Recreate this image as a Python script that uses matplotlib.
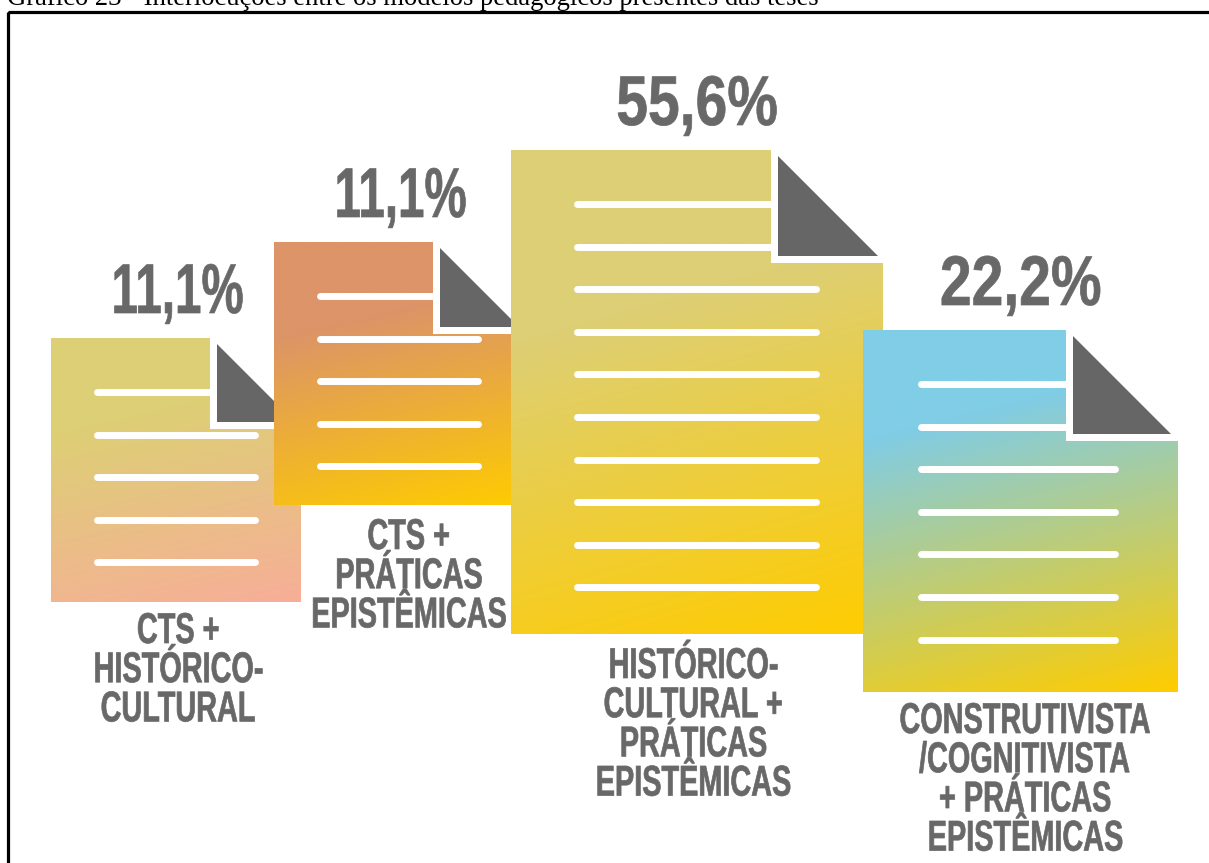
import numpy as np
import matplotlib
matplotlib.use('Agg')
import matplotlib.pyplot as plt
from matplotlib.patches import Polygon, Rectangle
from matplotlib.colors import to_rgb, to_rgba
from matplotlib.text import Text
from matplotlib.textpath import TextPath
from matplotlib.transforms import Affine2D, Bbox

# dados do gráfico
titulo = 'Gráfico 23 - Interlocuções entre os modelos pedagógicos presentes das teses'
rotulos = [
    'CTS +\nHISTÓRICO-\nCULTURAL',
    'CTS +\nPRÁTICAS\nEPISTÊMICAS',
    'HISTÓRICO-\nCULTURAL +\nPRÁTICAS\nEPISTÊMICAS',
    'CONSTRUTIVISTA\n/COGNITIVISTA\n+ PRÁTICAS\nEPISTÊMICAS',
]
valores = [11.1, 11.1, 55.6, 22.2]

# layout em pixels: x0, y0, x1, y1 de cada documento
docs = [(51, 338, 301, 602), (274, 242, 530, 505), (511, 150, 883, 634), (863, 330, 1178, 692)]
dobra = [(210, 422), (433, 327), (771, 256), (1066, 434)]
linhas_x = [(97, 255), (320, 478), (577, 816), (921, 1115)]
linhas_y0 = [392, 296, 204, 384]
n_linhas = [5, 5, 10, 7]
cores_ini = ['#DDCF75', '#DC9468', '#DDCF75', '#80CDE6']
cores_fim = ['#F7AE98', '#FFCC00', '#FFCC00', '#FFCC00']
grad_ini = [0.30, 0.30, 0.33, 0.25]
pos_valor = [(175.5, 313), (398.5, 217), (695.5, 125), (1019, 305)]
larg_valor = [0.675, 0.675, 0.81, 0.81]
pos_rotulo = [(177, 643), (407.5, 549), (692, 678), (1024, 733)]
GRAY = '#666666'
GRAY_TXT = '#686868'


class TextoEstreito(Text):
    # a fonte condensada do original não existe aqui: estreita o texto na horizontal
    def __init__(self, x, y, s, sx=1.0, **kw):
        super().__init__(x, y, s, **kw)
        self.sx = sx

    def _caminho(self):
        px = self.get_fontsize() * self.get_figure().dpi / 72
        tp = TextPath((0, 0), self.get_text(), size=px, prop=self.get_fontproperties())
        w = tp.get_extents().width * self.sx
        x, y = self.get_transform().transform((self.get_position()))
        return tp, Affine2D().scale(self.sx, 1).translate(x - w / 2, y)

    def get_window_extent(self, renderer=None, dpi=None):
        tp, tr = self._caminho()
        return Bbox(tp.get_extents(tr))

    def draw(self, renderer):
        tp, tr = self._caminho()
        gc = renderer.new_gc()
        gc.set_foreground(self.get_color())
        gc.set_linewidth(0.5)
        renderer.draw_path(gc, tp, tr, to_rgba(self.get_color()))
        gc.restore()


fig = plt.figure(figsize=(12.09, 8.63), dpi=100)
ax = fig.add_axes([0, 0, 1, 1])
ax.set_xlim(0, 1209)
ax.set_ylim(863, 0)
ax.axis('off')

# moldura preta
ax.add_patch(Rectangle((8.3, 12), 1300, 1000, fill=False, ec='black', lw=2.3, zorder=1))
ax.text(7, 5, titulo, family='Liberation Serif', fontsize=19.2, color='black', va='baseline', ha='left')


def desenha_doc(i, z):
    x0, y0, x1, y1 = docs[i]
    fx, fy = dobra[i]
    w = 7
    poly = Polygon([(x0, y0), (fx, y0), (fx, fy + w), (x1, fy + w), (x1, y1), (x0, y1)],
                   closed=True, fc='none', ec='none', zorder=z)
    ax.add_patch(poly)
    # gradiente quase vertical, levemente inclinado
    xx, yy = np.meshgrid(np.linspace(0, 1, 200), np.linspace(0, 1, 200))
    p = 0.18 * xx + 0.82 * yy
    t = np.clip((p - grad_ini[i]) / (1 - grad_ini[i]), 0, 1)[..., None]
    img = (1 - t) * np.array(to_rgb(cores_ini[i])) + t * np.array(to_rgb(cores_fim[i]))
    im = ax.imshow(img, extent=(x0, x1, y1, y0), aspect='auto', zorder=z, interpolation='bilinear')
    im.set_clip_path(poly)
    # orelha cinza
    lado = fy - (y0 + 6)
    ax.add_patch(Polygon([(fx + w, y0 + 6), (fx + w, fy), (fx + w + lado, fy)], closed=True,
                         fc=GRAY, ec='none', zorder=z))
    # linhas brancas do texto
    for k in range(n_linhas[i]):
        y = linhas_y0[i] + k * 42.6
        xa, xb = linhas_x[i]
        if y < fy:
            xb = fx
        ax.plot([xa, xb], [y, y], color='white', lw=5, solid_capstyle='round', zorder=z)


for i in range(4):
    desenha_doc(i, 2 + i)

for i in range(4):
    txt = f'{valores[i]:.1f}%'.replace('.', ',')
    ax.add_artist(TextoEstreito(pos_valor[i][0], pos_valor[i][1], txt, sx=larg_valor[i],
                                family='Liberation Sans', weight='bold', fontsize=50.7,
                                color=GRAY_TXT, zorder=10, transform=ax.transData))
    for k, linha in enumerate(rotulos[i].split('\n')):
        ax.add_artist(TextoEstreito(pos_rotulo[i][0], pos_rotulo[i][1] + k * 39.2, linha, sx=0.67,
                                    family='Liberation Sans', weight='bold', fontsize=31,
                                    color=GRAY_TXT, zorder=10, transform=ax.transData))

fig.savefig('out.png', dpi=100)
